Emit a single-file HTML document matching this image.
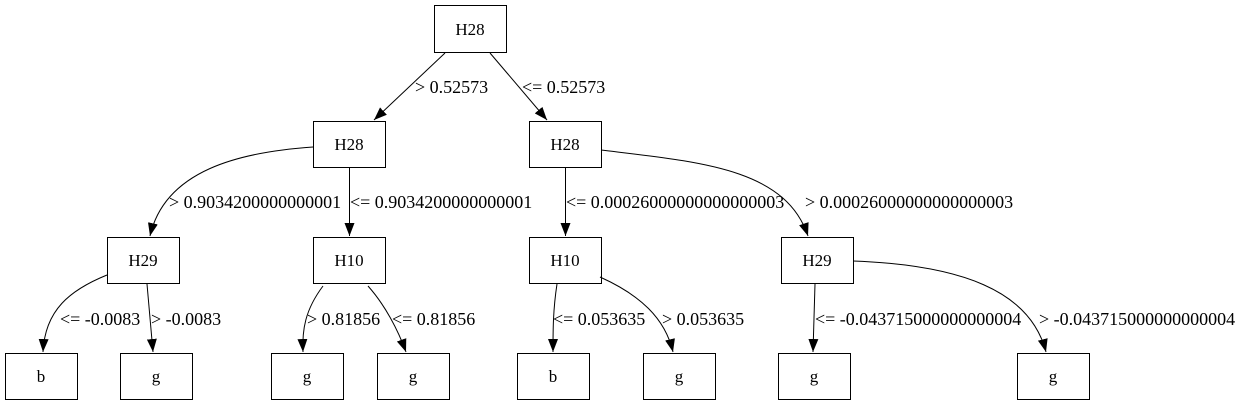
<!DOCTYPE html>
<html><head><meta charset="utf-8"><style>
html,body{margin:0;padding:0;background:#fff;}
svg{display:block;}
text{font-family:"Liberation Serif",serif;font-size:18px;fill:#000;}
text.n{font-size:17px;}
</style></head><body>
<svg width="1243" height="407" viewBox="0 0 1243 407" xmlns="http://www.w3.org/2000/svg">
<defs>
<marker id="a" markerWidth="13" markerHeight="10" refX="13" refY="5" orient="auto" markerUnits="userSpaceOnUse">
<path d="M0,0 L13,5 L0,10 Z" fill="#000"/>
</marker>
</defs>
<g fill="#fff" stroke="#000" stroke-width="1">
<rect x="434.5" y="5.5" width="72" height="47"/>
<rect x="313.5" y="121.5" width="72" height="46"/>
<rect x="529.5" y="121.5" width="72" height="46"/>
<rect x="107.5" y="237.5" width="72" height="46"/>
<rect x="313.5" y="237.5" width="72" height="46"/>
<rect x="529.5" y="237.5" width="72" height="46"/>
<rect x="781.5" y="237.5" width="72" height="46"/>
<rect x="5.5" y="353.5" width="72" height="46"/>
<rect x="120.5" y="353.5" width="72" height="46"/>
<rect x="271.5" y="353.5" width="72" height="46"/>
<rect x="377.5" y="353.5" width="72" height="46"/>
<rect x="517.5" y="353.5" width="72" height="46"/>
<rect x="643.5" y="353.5" width="72" height="46"/>
<rect x="778.5" y="353.5" width="72" height="46"/>
<rect x="1017.5" y="353.5" width="72" height="46"/>
</g>
<g fill="none" stroke="#000" stroke-width="1" marker-end="url(#a)">
<path d="M445,53 L374,120"/>
<path d="M490,53 L547,120"/>
<path d="M313,147 C240,152 165,170 150,236"/>
<path d="M349.5,168 L349.5,236"/>
<path d="M565.5,168 L565.5,236"/>
<path d="M601,150 C700,162 785,168 808,236"/>
<path d="M107,275 C70,290 45,310 43,352"/>
<path d="M147,284 L153,352"/>
<path d="M323,286 C305,310 302,330 303,352"/>
<path d="M368,286 C385,305 398,330 406,352"/>
<path d="M557,284 C553,310 553,330 553,352"/>
<path d="M600,277 C640,295 665,318 673,352"/>
<path d="M815,284 L813,352"/>
<path d="M853,261 C960,265 1030,290 1046,352"/>
</g>
<g text-anchor="middle">
<text class="n" x="470" y="35">H28</text>
<text class="n" x="349" y="150">H28</text>
<text class="n" x="565" y="150">H28</text>
<text class="n" x="143" y="266">H29</text>
<text class="n" x="349" y="266">H10</text>
<text class="n" x="565" y="266">H10</text>
<text class="n" x="817" y="266">H29</text>
<text class="n" x="41" y="382">b</text>
<text class="n" x="156" y="382">g</text>
<text class="n" x="307" y="382">g</text>
<text class="n" x="413" y="382">g</text>
<text class="n" x="553" y="382">b</text>
<text class="n" x="679" y="382">g</text>
<text class="n" x="814" y="382">g</text>
<text class="n" x="1053" y="382">g</text>
</g>
<text x="415" y="93">&gt; 0.52573</text>
<text x="522" y="93">&lt;= 0.52573</text>
<text x="169" y="208">&gt; 0.9034200000000001</text>
<text x="350" y="208">&lt;= 0.9034200000000001</text>
<text x="566" y="208">&lt;= 0.00026000000000000003</text>
<text x="805" y="208">&gt; 0.00026000000000000003</text>
<text x="60" y="325">&lt;= -0.0083</text>
<text x="151" y="325">&gt; -0.0083</text>
<text x="307" y="325">&gt; 0.81856</text>
<text x="392" y="325">&lt;= 0.81856</text>
<text x="553" y="325">&lt;= 0.053635</text>
<text x="662" y="325">&gt; 0.053635</text>
<text x="815" y="325">&lt;= -0.043715000000000004</text>
<text x="1039" y="325">&gt; -0.043715000000000004</text>
</svg>
</body></html>
